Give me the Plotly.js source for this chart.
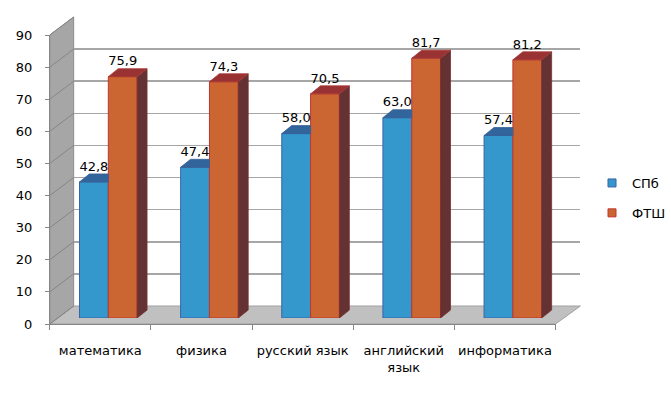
<!DOCTYPE html>
<html><head><meta charset="utf-8">
<script src="https://cdn.plot.ly/plotly-3.0.1.min.js"></script>
<style>html,body{margin:0;padding:0;background:#fff}#chart{width:671px;height:393px}</style>
</head><body><div id="chart"></div>
<script>
const categories = ['математика','физика','русский язык','английский язык','информатика'];
const tickLabels = ['математика','физика','русский язык','английский<br>язык','информатика'];
const seriesNames = ['СПб','ФТШ'];
const spbValues = [42.8, 47.4, 58.0, 63.0, 57.4];
const ftshValues = [75.9, 74.3, 70.5, 81.7, 81.2];
const yTicks = [0,10,20,30,40,50,60,70,80,90];

const W = 671, H = 393;
const px = x => x / W, py = y => 1 - y / H;
const FRONT = {x0:50, x1:558, y0:324, yTop:35};
const BACK = {x0:74, x1:583, y0:306, yTop:17};
const BARP = {x0:58, x1:566, y0:318, yTop:31.8};
const barW = 0.285, dX = 0.098, dY = 2.5;
const blue = {front:'#3598cd', top:'#31659b', side:'#2d5680', line:'#3b62a6'};
const orange = {front:'#cb6633', top:'#993333', side:'#643232', line:'#c0352f'};
const font = 'DejaVu Sans';

const idx = categories.map((c, i) => i);
const fmt = v => v.toFixed(1).replace('.', ',');

const traces = [];
traces.push({type:'scatter', x:[0], y:[0], xaxis:'x', yaxis:'y', mode:'markers', marker:{opacity:0}, showlegend:false, hoverinfo:'skip'});
traces.push({type:'scatter', x:[0], y:[0], xaxis:'x2', yaxis:'y2', mode:'markers', marker:{opacity:0}, showlegend:false, hoverinfo:'skip'});
traces.push({type:'scatter', x:[0], y:[0], xaxis:'x4', yaxis:'y2', mode:'markers', marker:{opacity:0}, showlegend:false, hoverinfo:'skip'});

// bars (front faces)
traces.push({type:'bar', x:idx, y:spbValues, width:barW, offset:-barW, xaxis:'x3', yaxis:'y3',
  marker:{color:blue.front, line:{color:blue.line, width:1}}, showlegend:false, hoverinfo:'skip'});
traces.push({type:'bar', x:idx, y:ftshValues, width:barW, offset:0, xaxis:'x3', yaxis:'y3',
  marker:{color:orange.front, line:{color:orange.line, width:1}}, showlegend:false, hoverinfo:'skip'});

// 3D faces computed from the values
const bTopX=[], bTopY=[], oTopX=[], oTopY=[], oSideX=[], oSideY=[];
idx.forEach(i => {
  const vb = spbValues[i], vo = ftshValues[i];
  const bl = i - barW, br = i;
  const ol = i, orr = i + barW;
  const bx = vb < vo ? [bl, bl+dX, br, br, bl] : [bl, bl+dX, br+dX, br, bl];
  bTopX.push(...bx, null); bTopY.push(vb, vb+dY, vb+dY, vb, vb, null);
  oTopX.push(ol, ol+dX, orr+dX, orr, ol, null); oTopY.push(vo, vo+dY, vo+dY, vo, vo, null);
  oSideX.push(orr, orr+dX, orr+dX, orr, orr, null); oSideY.push(0, dY, vo+dY, vo, 0, null);
});
traces.push({type:'scatter', x:oSideX, y:oSideY, xaxis:'x3', yaxis:'y3', mode:'lines', fill:'toself',
  fillcolor:orange.side, line:{color:'#7a2e2e', width:0.8}, showlegend:false, hoverinfo:'skip'});
traces.push({type:'scatter', x:oTopX, y:oTopY, xaxis:'x3', yaxis:'y3', mode:'lines', fill:'toself',
  fillcolor:orange.top, line:{color:'#a83a36', width:0.8}, showlegend:false, hoverinfo:'skip'});
traces.push({type:'scatter', x:bTopX, y:bTopY, xaxis:'x3', yaxis:'y3', mode:'lines', fill:'toself',
  fillcolor:blue.top, line:{color:'#3a5f95', width:0.8}, showlegend:false, hoverinfo:'skip'});

// data labels
traces.push({type:'scatter', x:idx.map(i => i - barW/2), y:spbValues.map(v => v + dY), text:spbValues.map(fmt),
  xaxis:'x3', yaxis:'y3', mode:'text', textposition:'top center', textfont:{family:font, size:13, color:'#000'},
  showlegend:false, hoverinfo:'skip'});
traces.push({type:'scatter', x:idx.map(i => i + barW/2), y:ftshValues.map(v => v + dY), text:ftshValues.map(fmt),
  xaxis:'x3', yaxis:'y3', mode:'text', textposition:'top center', textfont:{family:font, size:13, color:'#000'},
  showlegend:false, hoverinfo:'skip'});

// legend entries
traces.push({type:'scatter', x:[null], y:[null], xaxis:'x3', yaxis:'y3', mode:'markers', name:seriesNames[0], legendgroup:'a',
  marker:{symbol:'square', size:8, color:blue.front, line:{color:blue.line, width:1}}});
traces.push({type:'scatter', x:[null], y:[null], xaxis:'x3', yaxis:'y3', mode:'markers', name:seriesNames[1], legendgroup:'b',
  marker:{symbol:'square', size:8, color:orange.front, line:{color:orange.line, width:1}}});

// decorative walls
const yF = t => FRONT.y0 - (FRONT.y0 - FRONT.yTop) * t / 90;
const yB = t => BACK.y0 - (BACK.y0 - BACK.yTop) * t / 90;
const P = (x, y) => px(x).toFixed(5) + ',' + py(y).toFixed(5);
const shapes = [];
shapes.push({type:'path', xref:'paper', yref:'paper', layer:'below',
  path:'M' + P(FRONT.x0, FRONT.y0) + ' L' + P(FRONT.x1, FRONT.y0) + ' L' + P(BACK.x1, BACK.y0) + ' L' + P(BACK.x0, BACK.y0) + ' Z',
  fillcolor:'#c0c0c0', line:{color:'#a0a0a0', width:1}});
shapes.push({type:'path', xref:'paper', yref:'paper', layer:'below',
  path:'M' + P(FRONT.x0, FRONT.y0) + ' L' + P(FRONT.x0, FRONT.yTop) + ' L' + P(BACK.x0, BACK.yTop) + ' L' + P(BACK.x0, BACK.y0) + ' Z',
  fillcolor:'#a6a6a6', line:{color:'#8c8c8c', width:1}});
yTicks.forEach(t => {
  shapes.push({type:'line', xref:'paper', yref:'paper', layer:'below',
    x0:px(FRONT.x0), y0:py(yF(t)), x1:px(BACK.x0), y1:py(yB(t)), line:{color:'#868686', width:1}});
});
const bounds = categories.map((c, i) => i - 0.5).concat([categories.length - 0.5]);

const layout = {
  width:W, height:H, margin:{l:0, r:0, t:0, b:0},
  paper_bgcolor:'#ffffff', plot_bgcolor:'rgba(0,0,0,0)',
  font:{family:font, size:13, color:'#000'},
  hovermode:false, barmode:'overlay',
  showlegend:true,
  legend:{x:px(595), y:py(168), xanchor:'left', yanchor:'top', tracegroupgap:10, bgcolor:'rgba(0,0,0,0)', font:{family:font, size:13}},
  xaxis:{domain:[px(BACK.x0), px(BACK.x1)], range:[0,1], anchor:'y', showgrid:false, zeroline:false, showticklabels:false, ticks:'', showline:false},
  yaxis:{domain:[py(BACK.y0), py(BACK.yTop)], range:[0,90], anchor:'x', tickmode:'array', tickvals:yTicks, showgrid:true, gridcolor:'#a6a6a6', gridwidth:1.5,
    zeroline:false, showticklabels:false, ticks:'', showline:false},
  xaxis2:{domain:[px(FRONT.x0), px(FRONT.x1)], range:[-0.5, categories.length - 0.5], anchor:'y2', tickmode:'array', tickvals:bounds, ticktext:bounds.map(() => ''),
    ticks:'outside', ticklen:5, tickcolor:'#868686', showline:true, linecolor:'#868686', showgrid:false, zeroline:false},
  yaxis2:{domain:[py(FRONT.y0), py(FRONT.yTop)], range:[0,90], anchor:'x2', tickmode:'array', tickvals:yTicks,
    ticks:'outside', ticklen:4, tickcolor:'#868686', showline:true, linecolor:'#868686', showgrid:false, zeroline:false,
    ticklabelstandoff:10, tickfont:{family:font, size:13, color:'#000'}},
  xaxis4:{overlaying:'x2', anchor:'y2', range:[-0.5, categories.length - 0.5], tickmode:'array', tickvals:idx, ticktext:tickLabels,
    ticks:'', showgrid:false, zeroline:false, showline:false, side:'bottom', ticklabelstandoff:17, tickfont:{family:font, size:13, color:'#000'}},
  xaxis3:{domain:[px(BARP.x0), px(BARP.x1)], range:[-0.5, categories.length - 0.5], anchor:'y3', visible:false},
  yaxis3:{domain:[py(BARP.y0), py(BARP.yTop)], range:[0,90], anchor:'x3', visible:false},
  shapes:shapes
};
Plotly.newPlot('chart', traces, layout, {staticPlot:true, displayModeBar:false});
</script></body></html>
